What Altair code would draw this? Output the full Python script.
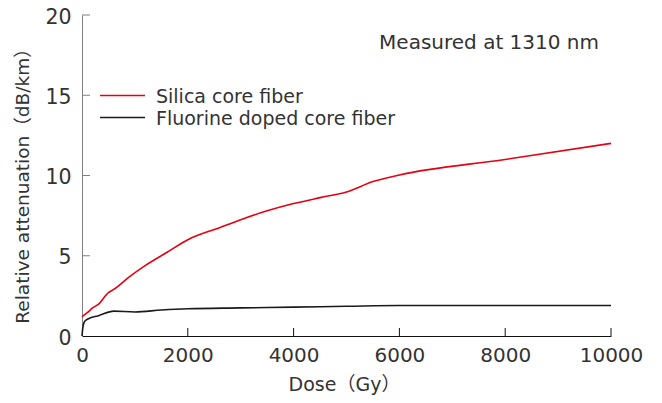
import altair as alt
import pandas as pd

# ---- data ----
silica_dose = [0, 100, 200, 300, 500, 600, 900, 1200, 1600, 2000, 2600, 3000,
               3500, 4000, 4500, 5000, 5500, 6000, 8000, 10000]
silica_att = [1.2, 1.45, 1.75, 1.95, 2.7, 2.9, 3.7, 4.4, 5.2, 6.0, 6.75, 7.25,
              7.8, 8.25, 8.62, 8.97, 9.62, 10.03, 11.0, 12.0]

fluorine_dose = [0, 15, 40, 80, 150, 300, 600, 1000, 1500, 2000, 3000, 4000,
                 5000, 6000, 8000, 10000]
fluorine_att = [0, 0.5, 0.85, 1.0, 1.12, 1.25, 1.55, 1.5, 1.62, 1.7, 1.75, 1.8,
                1.85, 1.9, 1.9, 1.9]

series_names = ["Silica core fiber", "Fluorine doped core fiber"]
series_colors = ["#e60012", "#1a1a1a"]

x_ticks = [0, 2000, 4000, 6000, 8000, 10000]
y_ticks = [0, 5, 10, 15, 20]

FONT = "DejaVu Sans, Noto Sans CJK JP"
TXT = "#333333"
W, H = 529, 321

df = pd.concat([
    pd.DataFrame({"dose": silica_dose, "att": silica_att, "series": series_names[0]}),
    pd.DataFrame({"dose": fluorine_dose, "att": fluorine_att, "series": series_names[1]}),
])

xscale = alt.Scale(domain=[0, 10000], nice=False)
yscale = alt.Scale(domain=[0, 20], nice=False)

lines = alt.Chart(df).mark_line(strokeWidth=1.6, interpolate="monotone").encode(
    x=alt.X("dose:Q", scale=xscale,
            axis=alt.Axis(values=x_ticks, format="d", ticks=False, tickSize=0,
                          grid=False, labelFlush=False,
                          domainColor="#111111", labelFontSize=20, labelFont=FONT,
                          labelColor=TXT, labelPadding=9,
                          title="Dose（Gy）", titleFont=FONT, titleFontSize=19,
                          titleFontWeight="normal", titleColor=TXT,
                          titleX=262, titleY=48, titleAlign="center",
                          titleBaseline="middle")),
    y=alt.Y("att:Q", scale=yscale,
            axis=alt.Axis(values=y_ticks, ticks=False, tickSize=0, grid=False,
                          labelFlush=False, labelOffset=2,
                          domainColor="#808080", labelFontSize=20.5, labelFont=FONT,
                          labelColor=TXT, labelPadding=11,
                          title="Relative attenuation（dB/km）", titleFont=FONT,
                          titleFontSize=18.5, titleFontWeight="normal",
                          titleColor=TXT, titleAngle=270,
                          titleX=-60, titleY=166, titleAlign="center",
                          titleBaseline="middle")),
    color=alt.Color("series:N",
                    scale=alt.Scale(domain=series_names, range=series_colors),
                    legend=None),
)

xt = pd.DataFrame({"t": x_ticks[1:]})
x_tick_marks = alt.Chart(xt).mark_rule(color="#111111", strokeWidth=1).encode(
    x=alt.X("t:Q", scale=xscale), y=alt.value(H - 8), y2=alt.value(H))

yt = pd.DataFrame({"t": y_ticks[1:]})
y_tick_marks = alt.Chart(yt).mark_rule(color="#808080", strokeWidth=1).encode(
    y=alt.Y("t:Q", scale=yscale), x=alt.value(0), x2=alt.value(8))

# manual legend (two rows)
legend_layers = []
row_y = [80.5, 102.5]
for name, col, ry in zip(series_names, series_colors, row_y):
    d = pd.DataFrame({"series": [name]})
    legend_layers.append(
        alt.Chart(d).mark_rule(color=col, strokeWidth=1.6).encode(
            x=alt.value(18), x2=alt.value(63), y=alt.value(ry)))
    legend_layers.append(
        alt.Chart(d).mark_text(align="left", baseline="middle", font=FONT,
                               fontSize=19, color=TXT).encode(
            text="series:N", x=alt.value(74), y=alt.value(ry + 1)))

note = alt.Chart(pd.DataFrame({"txt": ["Measured at 1310 nm"]})).mark_text(
    align="right", baseline="alphabetic", font=FONT, fontSize=20, color=TXT
).encode(text="txt:N", x=alt.value(517), y=alt.value(34))

chart = alt.layer(lines, x_tick_marks, y_tick_marks, note, *legend_layers).properties(
    width=W, height=H,
    autosize=alt.AutoSizeParams(type="none"),
    padding={"left": 74, "top": 7, "right": 40, "bottom": 60},
).configure_view(stroke=None)

chart.save("out.html", embed_options={"renderer": "svg", "actions": False})
